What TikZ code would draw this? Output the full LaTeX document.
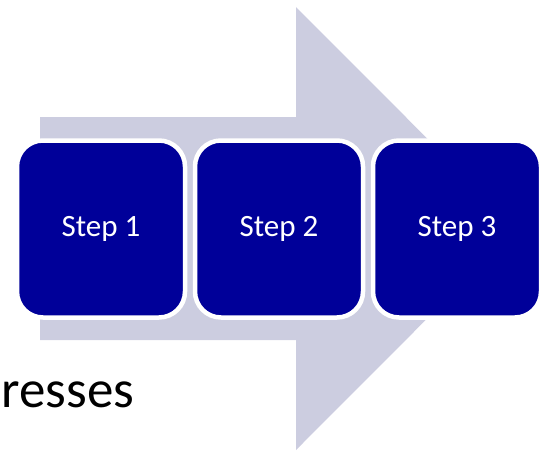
\documentclass[tikz,border=0pt]{standalone}
\usepackage{fontspec}
\setmainfont{Carlito}
\usetikzlibrary{positioning}
\definecolor{stepblue}{RGB}{0,0,153}
\definecolor{arrowgrey}{RGB}{204,205,224}
\tikzset{
  stepbox/.style={draw=white, line width=4.5pt, fill=stepblue, text=white,
    rounded corners=26pt, minimum width=168pt, minimum height=177pt,
    inner sep=0pt, outer sep=0pt, font=\fontsize{31}{36}\selectfont},
}

\begin{document}
\begin{tikzpicture}[y=1pt, x=1pt, yscale=-1, inner sep=0pt, outer sep=0pt]
\useasboundingbox (0,0) rectangle (543,451);
\path[fill=arrowgrey] (40,117) -- (296,117) -- (296,7) -- (517,228.5)
  -- (296,450) -- (296,340) -- (40,340) -- cycle;
\node[stepbox] (step1) at (101,229) {Step 1};
\node[stepbox, right=10pt of step1] (step2) {Step 2};
\node[stepbox, right=10pt of step2] (step3) {Step 3};
\node[anchor=base west, font=\fontsize{53}{60}\selectfont] (text1) at (1.5,407)
  {resses};
\end{tikzpicture}
\end{document}
